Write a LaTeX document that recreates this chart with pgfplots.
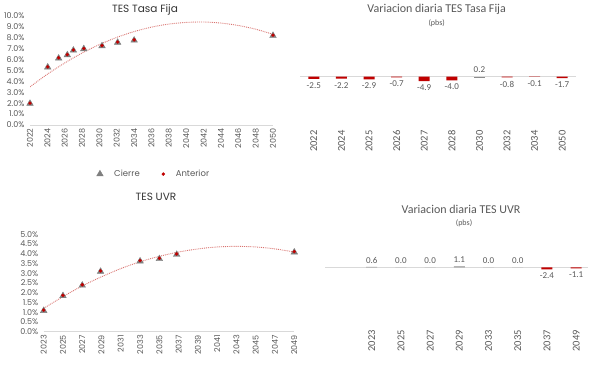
\documentclass[border=0pt]{standalone}
\usepackage{fontspec}
\setmainfont{Carlito}
\newfontfamily\gothic{Poppins}
\usepackage{pgfplots}
\pgfplotsset{compat=1.18}
\definecolor{dred}{HTML}{C00000}
\definecolor{mgray}{HTML}{7F7F7F}
\definecolor{tgray}{HTML}{595959}
\definecolor{lgray}{HTML}{D9D9D9}
\definecolor{trend}{HTML}{D9736F}
\pgfplotsset{
  leftchart/.style={
    scale only axis,
    axis x line*=bottom, axis y line*=left,
    x axis line style={draw=lgray, -},
    y axis line style={draw=none},
    major tick length=0pt,
    /pgf/number format/assume math mode=true,
    x tick label style={rotate=90, anchor=east, font=\gothic\fontsize{8}{9}\selectfont, text=tgray, /pgf/number format/set thousands separator={}},
    y tick label style={font=\gothic\fontsize{8}{9}\selectfont, text=tgray, xshift=-2pt},
    yticklabel={\pgfmathprintnumber[fixed,fixed zerofill,precision=1]{\tick}\%},
  },
  barchart/.style={
    scale only axis,
    ybar,
    bar width=11pt,
    axis line style={draw=none},
    major tick length=0pt,
    ytick=\empty,
    extra y ticks={0},
    extra y tick labels={},
    extra y tick style={grid=major, major grid style={draw=lgray, line width=0.8pt}},
    /pgf/number format/assume math mode=true,
    x tick label style={rotate=90, anchor=east, font=\fontsize{10.5}{11}\selectfont, text=tgray},
    nodes near coords={\pgfmathprintnumber[fixed,fixed zerofill,precision=1]{\pgfplotspointmeta}},
    every node near coord/.append style={font=\fontsize{9}{10}\selectfont, text=tgray},
  },
}
\begin{document}
\begin{tikzpicture}
\path[use as bounding box] (0pt,0pt) rectangle (589pt,366pt);

% ---------- TES Tasa Fija ----------
\node[font=\gothic\fontsize{10.5}{11}\selectfont, text=black!80] at (145pt,356.5pt) {TES Tasa Fija};
\begin{axis}[leftchart, at={(30pt,241pt)}, anchor=south west, width=243pt, height=109pt,
  xmin=2022, xmax=2050, ymin=0, ymax=10,
  xtick={2022,2024,...,2050}, ytick={0,1,...,10},
  legend style={draw=none, fill=none, at={(axis description cs:0.51,-0.45)}, anchor=center,
    font=\gothic\fontsize{8.5}{9}\selectfont, text=tgray,
    /tikz/every odd column/.append style={column sep=9pt},
    /tikz/every even column/.append style={column sep=20pt}},
  legend columns=2]
\addplot[only marks, mark=triangle*, mark size=3.8pt, mgray] coordinates {
 (2022,1.97) (2024.04,5.30) (2025.3,6.12) (2026.3,6.42) (2027,6.85) (2028.2,6.98)
 (2030.3,7.25) (2032.1,7.57) (2034,7.77) (2050,8.20)};
\addlegendentry{Cierre}
\addplot[only marks, mark=*, mark size=1.5pt, dred] coordinates {
 (2022,2.0) (2024.04,5.33) (2025.3,6.16) (2026.3,6.46) (2027,6.89) (2028.2,7.02)
 (2030.3,7.29) (2032.1,7.61) (2034,7.81) (2050,8.24)};
\addlegendentry{Anterior}
\addplot[trend, densely dotted, line width=0.9pt, smooth, forget plot] coordinates {
 (2022,3.50) (2024,4.66) (2026,5.69) (2028,6.60) (2030,7.38) (2032,8.04) (2034,8.57)
 (2036,8.98) (2038,9.26) (2040,9.41) (2042,9.45) (2044,9.35) (2046,9.13) (2048,8.79) (2050,8.32)};
\end{axis}

% ---------- TES UVR ----------
\node[font=\gothic\fontsize{10.5}{11}\selectfont, text=black!80] at (156pt,169.3pt) {TES UVR};
\begin{axis}[leftchart, at={(43.7pt,34.3pt)}, anchor=south west, width=250.6pt, height=97.4pt,
  xmin=2023, xmax=2049, ymin=0, ymax=5,
  xtick={2023,2025,...,2049}, ytick={0,0.5,...,5}]
\addplot[only marks, mark=triangle*, mark size=3.8pt, mgray] coordinates {
 (2023,1.08) (2025,1.84) (2027,2.38) (2028.9,3.09) (2033,3.62) (2035,3.74) (2036.8,3.96) (2049,4.08)};
\addplot[only marks, mark=*, mark size=1.5pt, dred] coordinates {
 (2023,1.11) (2025,1.87) (2027,2.41) (2028.9,3.12) (2033,3.65) (2035,3.77) (2036.8,3.99) (2049,4.11)};
\addplot[trend, densely dotted, line width=0.9pt, smooth] coordinates {
 (2023,1.20) (2025,1.80) (2027,2.35) (2029,2.82) (2031,3.24) (2033,3.59) (2035,3.87)
 (2037,4.09) (2039,4.25) (2041,4.35) (2043,4.38) (2045,4.35) (2047,4.25) (2049,4.09)};
\end{axis}

% ---------- Variacion diaria TES Tasa Fija ----------
\node[font=\fontsize{12}{13}\selectfont, text=tgray] at (436.7pt,356.5pt) {Variacion diaria TES Tasa Fija};
\node[font=\fontsize{8}{9}\selectfont, text=tgray] at (436.7pt,343pt) {(pbs)};
\begin{axis}[barchart, at={(300pt,238.9pt)}, anchor=south west, width=276pt, height=86.4pt,
  xmin=-0.5, xmax=9.5, ymin=-56, ymax=40,
  xtick={0,...,9}, xticklabels={2022,2024,2025,2026,2027,2028,2030,2032,2034,2050}]
\addplot[fill=dred, draw=none, bar shift=0pt, every node near coord/.append style={anchor=north}] coordinates {
 (0,-2.5) (1,-2.2) (2,-2.9) (3,-0.7) (4,-4.9) (5,-4.0) (7,-0.8) (8,-0.1) (9,-1.7)};
\addplot[fill=black!45, draw=none, bar shift=0pt, every node near coord/.append style={anchor=south}] coordinates {
 (6,0.2)};
\end{axis}

% ---------- Variacion diaria TES UVR ----------
\node[font=\fontsize{12}{13}\selectfont, text=tgray] at (461pt,157pt) {Variacion diaria TES UVR};
\node[font=\fontsize{8}{9}\selectfont, text=tgray] at (464pt,143pt) {(pbs)};
\begin{axis}[barchart, at={(325pt,39.3pt)}, anchor=south west, width=263.4pt, height=81pt,
  xmin=-1.6, xmax=7.42, ymin=-66, ymax=24,
  xtick={0,...,7}, xticklabels={2023,2025,2027,2029,2033,2035,2037,2049}]
\addplot[fill=dred, draw=none, bar shift=0pt, every node near coord/.append style={anchor=north}] coordinates {
 (6,-2.4) (7,-1.1)};
\addplot[fill=black!45, draw=none, bar shift=0pt, every node near coord/.append style={anchor=south}] coordinates {
 (0,0.6) (1,0.0) (2,0.0) (3,1.1) (4,0.0) (5,0.0)};
\end{axis}
\end{tikzpicture}
\end{document}
